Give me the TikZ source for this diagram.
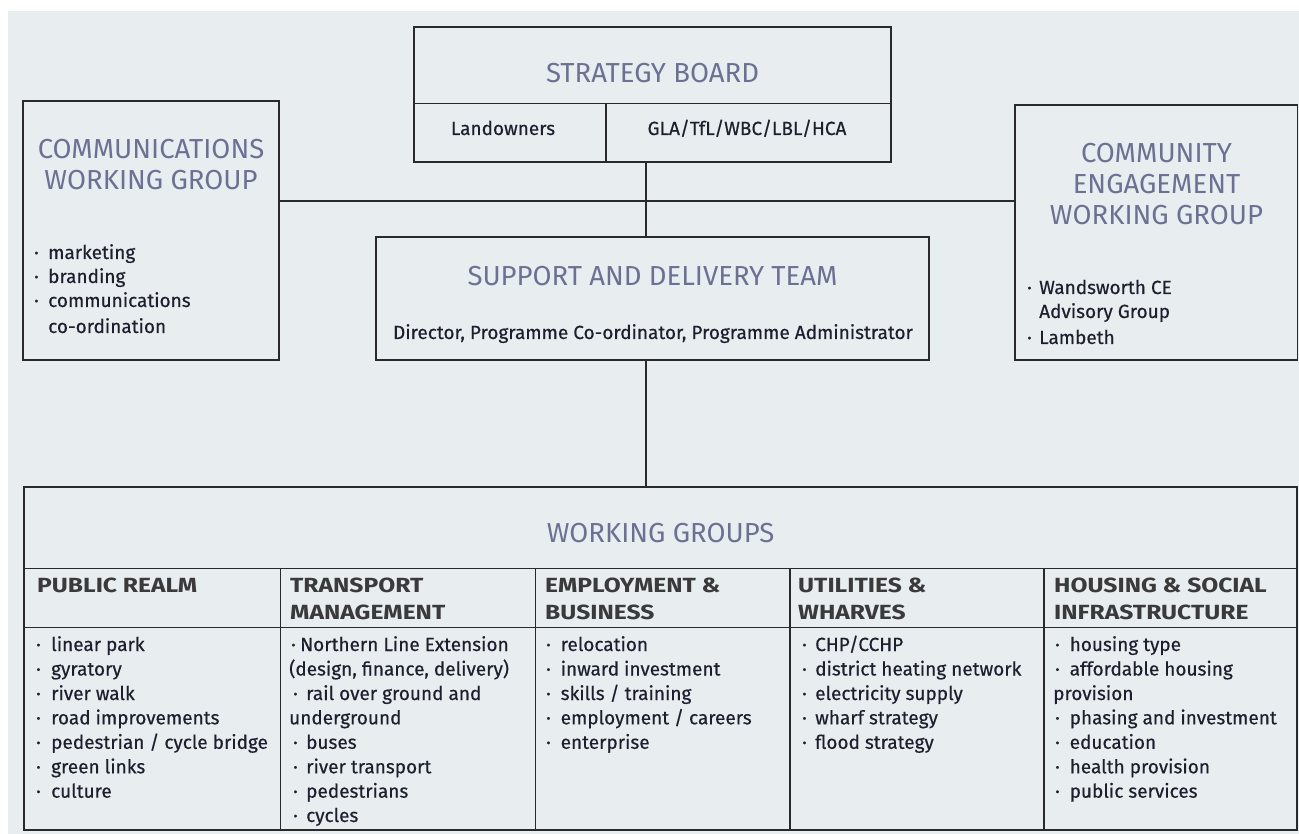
\documentclass[tikz,border=0pt]{standalone}
\usepackage{fontspec}
\setmainfont{Fira Sans}
\newfontfamily\bodyfont[FakeBold=0.4]{Fira Sans}
\newfontfamily\hdfont[FakeStretch=1.2]{Fira Sans}
\definecolor{bg}{HTML}{E8EDF0}
\definecolor{ttlc}{HTML}{6C7194}
\definecolor{ink}{HTML}{1E1E2E}
\definecolor{hdr}{HTML}{3A3A3A}
\definecolor{ln}{HTML}{2A2A2A}
\newcommand\bx[1]{\makebox[#1][l]{·}}
\tikzset{
  box/.style={draw=ln, line width=1.5pt, rectangle, inner sep=0pt},
  ttl/.style={text=ttlc, font=\fontsize{27.5}{31}\selectfont, inner sep=0pt, anchor=base},
  txt/.style={text=ink, font=\bodyfont\fontsize{19}{24.5}\selectfont, inner sep=0pt, anchor=base west},
  ctxt/.style={txt, anchor=base},
  hd/.style={text=hdr, font=\hdfont\bfseries\fontsize{20.5}{27}\selectfont, inner sep=0pt, anchor=base west},
  conn/.style={draw=ln, line width=1.5pt},
  thick conn/.style={draw=ln, line width=2.8pt},
  divider/.style={draw=ln, line width=1.6pt},
}
\begin{document}
\begin{tikzpicture}[x=1pt,y=-1pt]
\fill[white] (0,0) rectangle (1299,834);
\fill[bg] (8,11) rectangle (1299,834);
\useasboundingbox (0,0) rectangle (1299,834);

% ---------- boxes ----------
\node[box, minimum width=477pt, minimum height=135pt] (sb) at (652.5,94.5) {};
\node[box, minimum width=256pt, minimum height=259pt] (comm) at (151,230.5) {};
\node[box, minimum width=282.5pt, minimum height=255pt] (ce) at (1156.25,232.5) {};
\node[box, minimum width=553pt, minimum height=123pt] (sdt) at (652.5,298.5) {};
\node[box, minimum width=1273pt, minimum height=343pt] (wg) at (660.5,658.5) {};

% ---------- helper coordinates ----------
\coordinate (hl) at (0,201);
\coordinate (vx) at (646,0);
\coordinate (sbmid) at (0,103.5);
\coordinate (sbdiv) at (606,0);
\coordinate (wgh1) at (0,568.5);
\coordinate (wgh2) at (0,627.5);
\coordinate (c1) at (280.5,0);
\coordinate (c2) at (535.5,0);
\coordinate (c3) at (790,0);
\coordinate (c4) at (1044,0);

% strategy board internal lines
\draw[divider] (sb.west |- sbmid) -- (sb.east |- sbmid);
\draw[line width=2.2pt, draw=ln] (sbdiv |- sbmid) -- (sbdiv |- sb.south);

% working group table lines
\draw[divider] (wg.west |- wgh1) -- (wg.east |- wgh1);
\draw[divider] (wg.west |- wgh2) -- (wg.east |- wgh2);
\foreach \c in {c1,c2,c3,c4}
  \draw[line width=1.8pt, draw=ln] (\c |- wgh1) -- (\c |- wg.south);

% ---------- connectors ----------
\draw[conn] (comm.east |- hl) -- (ce.west |- hl);
\draw[conn] (sb.south -| vx) -- (sdt.north -| vx);
\draw[thick conn] (sdt.south -| vx) -- (wg.north -| vx);

% ---------- texts: strategy board ----------
\node[ttl] (sbt) at (652.5,83) {STRATEGY BOARD};
\node[ctxt] (lo) at (503,135) {Landowners};
\node[ctxt] (gla) at (747,135) {GLA/TfL/WBC/LBL/HCA};

% communications
\node[ttl] (ct1) at (151,159) {COMMUNICATIONS};
\node[ttl] (ct2) at (151,190) {WORKING GROUP};
\node[txt] (cb1) at (34,259) {\bx{14pt}marketing};
\node[txt] (cb2) at (34,283) {\bx{14pt}branding};
\node[txt] (cb3) at (34,307) {\bx{14pt}communications};
\node[txt] (cb4) at (48,333) {co-ordination};

% community engagement
\node[ttl] (et1) at (1156.5,163) {COMMUNITY};
\node[ttl] (et2) at (1156.5,194) {ENGAGEMENT};
\node[ttl] (et3) at (1156.5,225) {WORKING GROUP};
\node[txt] (eb1) at (1027,294) {\bx{12pt}Wandsworth CE};
\node[txt] (eb2) at (1039,318) {Advisory Group};
\node[txt] (eb3) at (1027,344) {\bx{12pt}Lambeth};

% support and delivery
\node[ttl] (st) at (652.5,286) {SUPPORT AND DELIVERY TEAM};
\node[ctxt] (sd) at (653,339) {Director, Programme Co-ordinator, Programme Administrator};

% working groups
\node[ttl] (wgt) at (660.5,542) {WORKING GROUPS};

\node[hd] (h1a) at (37,592) {PUBLIC REALM};
\node[hd] (h2a) at (290,592) {TRANSPORT};
\node[hd] (h2b) at (290,619) {MANAGEMENT};
\node[hd] (h3a) at (545,592) {EMPLOYMENT \&};
\node[hd] (h3b) at (545,619) {BUSINESS};
\node[hd] (h4a) at (798,592) {UTILITIES \&};
\node[hd] (h4b) at (798,619) {WHARVES};
\node[hd] (h5a) at (1054,592) {HOUSING \& SOCIAL};
\node[hd] (h5b) at (1054,619) {INFRASTRUCTURE};

% column 1
\node[txt] (p1) at (36,651) {\bx{15pt}linear park};
\node[txt] (p2) at (36,675.5) {\bx{15pt}gyratory};
\node[txt] (p3) at (36,700) {\bx{15pt}river walk};
\node[txt] (p4) at (36,724.3) {\bx{15pt}road improvements};
\node[txt] (p5) at (36,748.8) {\bx{15pt}pedestrian / cycle bridge};
\node[txt] (p6) at (36,773.3) {\bx{15pt}green links};
\node[txt] (p7) at (36,797.7) {\bx{15pt}culture};

% column 2
\node[txt] (t1) at (291,651) {\bx{9pt}Northern Line Extension};
\node[txt] (t2) at (289,675.5) {(design, finance, delivery)};
\node[txt] (t3) at (293,700) {\bx{13pt}rail over ground and};
\node[txt] (t4) at (289,724.3) {underground};
\node[txt] (t5) at (293,748.8) {\bx{13pt}buses};
\node[txt] (t6) at (293,773.3) {\bx{13pt}river transport};
\node[txt] (t7) at (293,797.7) {\bx{13pt}pedestrians};
\node[txt] (t8) at (293,822) {\bx{13pt}cycles};

% column 3
\node[txt] (e1) at (546,651) {\bx{14.5pt}relocation};
\node[txt] (e2) at (546,675.5) {\bx{14.5pt}inward investment};
\node[txt] (e3) at (546,700) {\bx{14.5pt}skills / training};
\node[txt] (e4) at (546,724.3) {\bx{14.5pt}employment / careers};
\node[txt] (e5) at (546,748.8) {\bx{14.5pt}enterprise};

% column 4
\node[txt] (u1) at (802,651) {\bx{13pt}CHP/CCHP};
\node[txt] (u2) at (802,675.5) {\bx{13pt}district heating network};
\node[txt] (u3) at (802,700) {\bx{13pt}electricity supply};
\node[txt] (u4) at (802,724.3) {\bx{13pt}wharf strategy};
\node[txt] (u5) at (802,748.8) {\bx{13pt}flood strategy};

% column 5
\node[txt] (s1) at (1055,651) {\bx{14.5pt}housing type};
\node[txt] (s2) at (1055,675.5) {\bx{14.5pt}affordable housing};
\node[txt] (s3) at (1053,700) {provision};
\node[txt] (s4) at (1055,724.3) {\bx{14.5pt}phasing and investment};
\node[txt] (s5) at (1055,748.8) {\bx{14.5pt}education};
\node[txt] (s6) at (1055,773.3) {\bx{14.5pt}health provision};
\node[txt] (s7) at (1055,797.7) {\bx{14.5pt}public services};
\end{tikzpicture}
\end{document}
